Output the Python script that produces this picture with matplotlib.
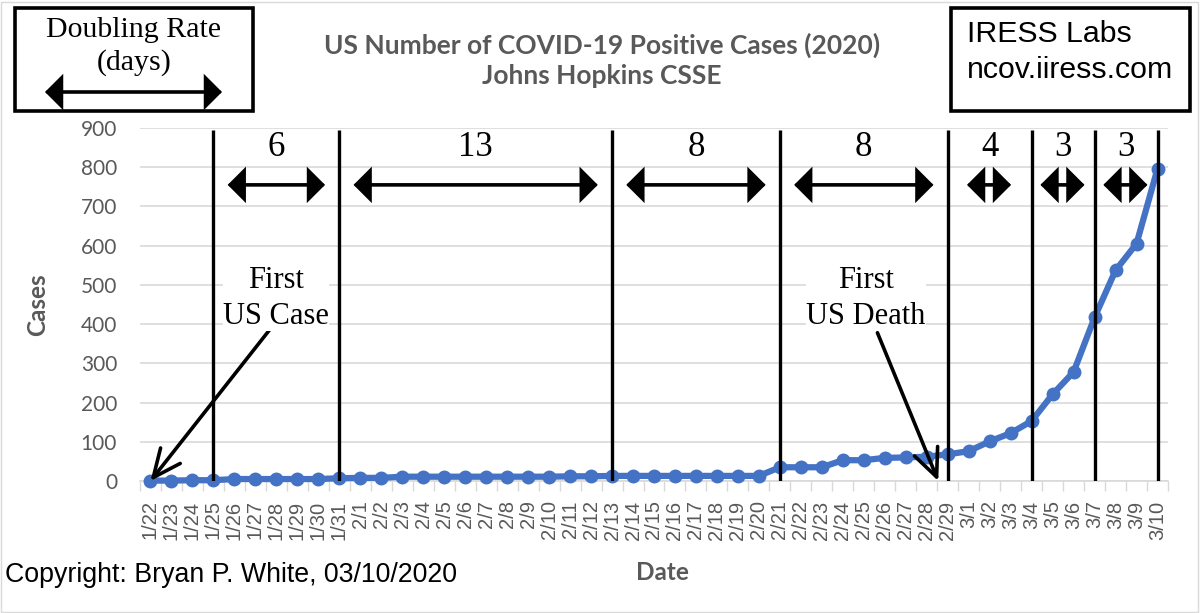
import matplotlib
matplotlib.use("Agg")
import matplotlib.pyplot as plt
from matplotlib.patches import Rectangle, FancyArrowPatch

# ---------------- data ----------------
dates = ["1/22", "1/23", "1/24", "1/25", "1/26", "1/27", "1/28", "1/29", "1/30", "1/31",
         "2/1", "2/2", "2/3", "2/4", "2/5", "2/6", "2/7", "2/8", "2/9", "2/10",
         "2/11", "2/12", "2/13", "2/14", "2/15", "2/16", "2/17", "2/18", "2/19", "2/20",
         "2/21", "2/22", "2/23", "2/24", "2/25", "2/26", "2/27", "2/28", "2/29",
         "3/1", "3/2", "3/3", "3/4", "3/5", "3/6", "3/7", "3/8", "3/9", "3/10"]
cases = [1, 1, 2, 2, 5, 5, 5, 5, 5, 7,
         8, 8, 11, 11, 11, 11, 11, 11, 11, 11,
         12, 12, 13, 13, 13, 13, 13, 13, 13, 13,
         35, 35, 35, 53, 53, 59, 60, 62, 68,
         76, 101, 122, 153, 221, 278, 417, 537, 605, 796]
boundary_dates = ["1/25", "1/31", "2/13", "2/21", "2/29", "3/4", "3/7", "3/10"]
doubling_days = [6, 13, 8, 8, 4, 3, 3]
y_ticks = [0, 100, 200, 300, 400, 500, 600, 700, 800, 900]

first_case_date = "1/22"
first_death_date = "2/29"

# ---------------- style ----------------
GRAY = "#595959"
GRID = "#d9d9d9"
BLUE = "#4472C4"
SANS = ["Lato", "DejaVu Sans"]
SERIF = ["Liberation Serif", "DejaVu Serif"]
ARIAL = ["Liberation Sans", "DejaVu Sans"]

W, H = 1200, 613
fig = plt.figure(figsize=(W / 100, H / 100), dpi=100)

def fx(px):
    return px / W

def fy(py):
    return 1 - py / H

ax = fig.add_axes([fx(140), fy(481), fx(1168) - fx(140), fy(128) - fy(481)])

x = list(range(len(dates)))
ax.plot(x, cases, color=BLUE, lw=4.5, marker="o", ms=9, clip_on=False, zorder=3)

ax.set_xlim(-0.5, len(dates) - 0.5)
ax.set_ylim(0, 900)
ax.set_yticks(y_ticks)
ax.set_xticks(x)
ax.set_xticklabels(dates, rotation=90, fontsize=14.5, color=GRAY, family=ARIAL)
ax.set_xticks([i + 0.5 for i in range(-1, len(dates))], minor=True)
ax.tick_params(axis="x", which="major", length=0, pad=14)
ax.tick_params(axis="x", which="minor", length=7, color=GRID, width=1)
ax.tick_params(axis="y", length=0, pad=16.5, labelsize=15, labelcolor=GRAY)
for lab in ax.get_yticklabels():
    lab.set_family(SANS)

ax.grid(axis="y", color=GRID, lw=1.2, zorder=0)
for s in ["top", "right", "left"]:
    ax.spines[s].set_visible(False)
ax.spines["bottom"].set_color(GRID)
ax.spines["bottom"].set_linewidth(1.2)
ax.set_axisbelow(True)

ax.set_ylabel("Cases", fontsize=17.5, fontweight="bold", color=GRAY, family=SANS,
              va="center")
ax.yaxis.set_label_coords((38 - 140) / 1028, 0.5)
ax.set_xlabel("Date", fontsize=17.5, fontweight="bold", color=GRAY, family=SANS,
              va="center")
ax.xaxis.set_label_coords((662 - 140) / 1028, (481 - 572) / 353)

# doubling-period vertical lines
bidx = [dates.index(d) for d in boundary_dates]
ax.vlines(bidx, 0, 895, color="black", lw=2.4, zorder=4)

ARROW2 = "<|-|>,head_length=0.5,head_width=0.5"

# double arrows and numbers
for (a, b), n in zip(zip(bidx[:-1], bidx[1:]), doubling_days):
    w = b - a
    mid = (a + b) / 2
    if w >= 6:
        x0, x1 = a + 0.68, b - 0.68
    else:
        x0, x1 = mid - 1.08, mid + 1.02
    ax.annotate("", xy=(x1, 755), xytext=(x0, 755),
                arrowprops=dict(arrowstyle=ARROW2, lw=2.6, color="black",
                                shrinkA=0, shrinkB=0, mutation_scale=20,
                                joinstyle="miter"), zorder=5)
    ax.text(mid, 850, str(n), ha="center", va="center", fontsize=25,
            family=SERIF, color="black", zorder=5)

# first case / first death annotations
ci = dates.index(first_case_date)
di = dates.index(first_death_date)
ax.annotate("", xy=(ci, 0), xytext=(ci + 5.67, 385),
            arrowprops=dict(arrowstyle="->,head_length=1.0,head_width=0.45",
                            lw=2.6, color="black", shrinkA=0, shrinkB=0,
                            mutation_scale=20), zorder=6)
ax.text(ci + 6.0, 465, "First\nUS Case", ha="center", va="center", fontsize=22,
        family=SERIF, linespacing=1.3, zorder=6,
        bbox=dict(facecolor="white", edgecolor="none", pad=0))
ax.annotate("", xy=(di - 0.45, 0), xytext=(di - 3.35, 378),
            arrowprops=dict(arrowstyle="->,head_length=1.0,head_width=0.45",
                            lw=2.6, color="black", shrinkA=0, shrinkB=0,
                            mutation_scale=20), zorder=6)
ax.text(di - 3.9, 465, "First\nUS Death", ha="center", va="center", fontsize=22,
        family=SERIF, linespacing=1.3, zorder=6,
        bbox=dict(facecolor="white", edgecolor="none", pad=0))

# title
fig.text(fx(602), fy(45), "US Number of COVID-19 Positive Cases (2020)", ha="center",
         va="center", fontsize=19, fontweight="bold", color=GRAY, family=SANS)
fig.text(fx(602), fy(76), "Johns Hopkins CSSE", ha="center",
         va="center", fontsize=19, fontweight="bold", color=GRAY, family=SANS)

# left legend box
fig.patches.append(Rectangle((fx(15), fy(111)), fx(253) - fx(15), fy(8) - fy(111),
                             transform=fig.transFigure, fill=False, ec="black", lw=2.6))
fig.text(fx(134), fy(30), "Doubling Rate", ha="center", va="center", fontsize=21.5,
         family=SERIF)
fig.text(fx(134), fy(63), "(days)", ha="center", va="center", fontsize=21.5, family=SERIF)
fig.add_artist(FancyArrowPatch(
    (fx(45), fy(92)), (fx(222), fy(92)), transform=fig.transFigure,
    arrowstyle=ARROW2, lw=2.6, color="black", joinstyle="miter",
    shrinkA=0, shrinkB=0, mutation_scale=20))

# right box
fig.patches.append(Rectangle((fx(951), fy(111)), fx(1190) - fx(951), fy(8) - fy(111),
                             transform=fig.transFigure, fill=False, ec="black", lw=2.6))
fig.text(fx(967), fy(34), "IRESS Labs", ha="left", va="center", fontsize=21.8, family=ARIAL)
fig.text(fx(967), fy(70), "ncov.iiress.com", ha="left", va="center", fontsize=21.8, family=ARIAL)

# copyright
fig.text(fx(5), fy(575), "Copyright: Bryan P. White, 03/10/2020", ha="left", va="center",
         fontsize=19.3, family=ARIAL)

# faint outer border
fig.patches.append(Rectangle((0.001, 0.002), 0.997, 0.995, transform=fig.transFigure,
                             fill=False, ec=GRID, lw=1))

fig.savefig("out.png", dpi=100)
